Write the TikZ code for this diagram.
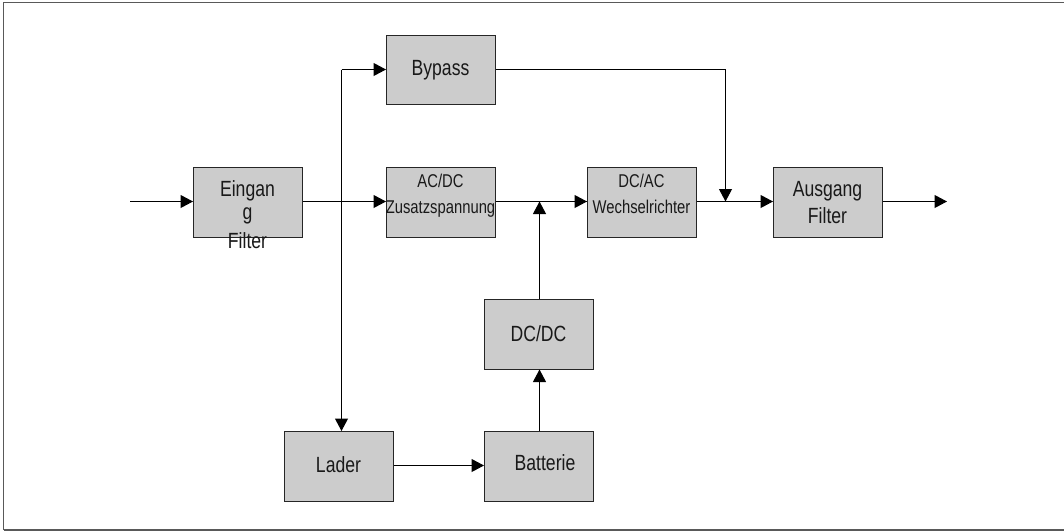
\documentclass[tikz,border=0pt]{standalone}
\usepackage{fontspec}
\setmainfont{Liberation Sans}[FakeStretch=0.8]
\usetikzlibrary{arrows.meta}
\begin{document}
\begin{tikzpicture}[x=1pt,y=-1pt,
  blk/.style={draw=black!85,fill=black!20,line width=1pt,minimum width=109pt,minimum height=69.5pt,inner sep=0pt,anchor=north west},
  big/.style={font=\fontsize{22}{23}\selectfont,text=black!90},
  small/.style={font=\fontsize{18.5}{20}\selectfont,text=black!90},
  conn/.style={line width=1pt,-{Triangle[length=12.5pt,width=13pt]}},
  plain/.style={line width=1pt},
  frame/.style={draw=black!65,line width=1.5pt}]
\useasboundingbox (0,0) rectangle (1064,531);
\draw[frame] (3.5,530) -- (3.5,2.5) -- (1064,2.5);
\draw[frame,line width=1.1pt] (3.5,530) -- (1064,530);
% boxes
\node[blk] (ein) at (193,167) {};
\node[blk] (acdc) at (386,167) {};
\node[blk] (byp) at (386,34.5) {};
\node[blk] (dcac) at (587,167) {};
\node[blk] (aus) at (773,167) {};
\node[blk] (dcdc) at (484,299) {};
\node[blk] (lad) at (284,431) {};
\node[blk] (bat) at (484,431) {};
% texts
\node[big,anchor=base] (t1) at (247.5,196.5) {Eingan};
\node[big,anchor=base] (t2) at (247.5,219) {g};
\node[big,anchor=base] (t3) at (247.5,248) {Filter};
\node[small,anchor=base] (t4) at (440.5,187.5) {AC/DC};
\node[small,anchor=base] (t5) at (440.5,213) {Zusatzspannung};
\node[big,anchor=base] (t6) at (440.5,75) {Bypass};
\node[small,anchor=base] (t7) at (641.5,187.5) {DC/AC};
\node[small,anchor=base] (t8) at (641.5,213) {Wechselrichter};
\node[big,anchor=base] (t9) at (827.5,196.5) {Ausgang};
\node[big,anchor=base] (t10) at (827.5,223) {Filter};
\node[big,anchor=base] (t11) at (538.5,341) {DC/DC};
\node[big,anchor=base] (t12) at (338.5,472.5) {Lader};
\node[big,anchor=base] (t13) at (545,470.5) {Batterie};
% coordinates
\coordinate (in) at (130,201.5);
\coordinate (out) at (947,201.5);
\coordinate (jtop) at (341.5,69.5);
\coordinate (jm) at (539.5,201.5);
\coordinate (jb) at (725.5,201.5);
\coordinate (bcorner) at (725.5,69.5);
\coordinate (lb) at (0,465.5);
% connectors
\draw[conn] (in) -- (ein.west |- in);
\draw[conn] (ein.east |- in) -- (acdc.west |- in);
\draw[plain] (acdc.east |- in) -- (dcac.west |- in);
\draw[conn] (jm) -- (dcac.west |- in);
\draw[conn] (jm |- dcdc.north) -- (jm);
\draw[conn] (jm |- bat.north) -- (jm |- dcdc.south);
\draw[conn] (dcac.east |- in) -- (aus.west |- in);
\draw[conn] (aus.east |- in) -- (out);
\draw[conn] (jtop) -- (byp.west |- jtop);
\draw[conn] (jtop) -- (jtop |- lad.north);
\draw[conn] (byp.east |- bcorner) -- (bcorner) -- (jb);
\draw[conn] (lad.east |- lb) -- (bat.west |- lb);
\end{tikzpicture}
\end{document}
